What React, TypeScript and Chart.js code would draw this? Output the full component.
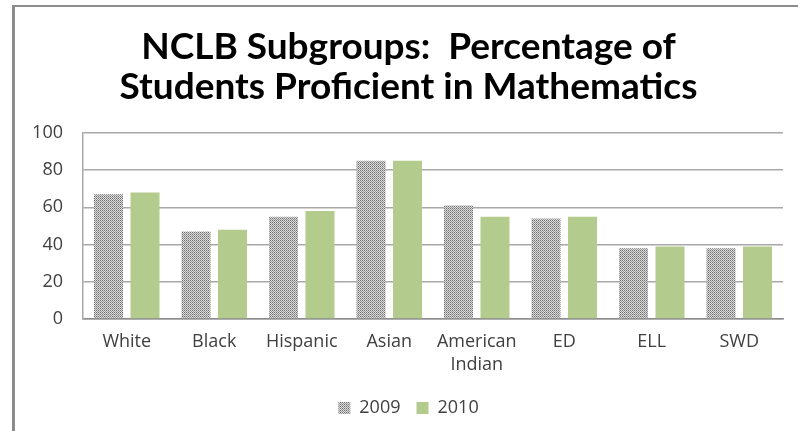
import React, { useEffect, useRef } from "react";
import { Chart, registerables } from "chart.js";

Chart.register(...registerables);

// Subgroup categories and proficiency percentages per school year
const categories: (string | string[])[] = [
  "White",
  "Black",
  "Hispanic",
  "Asian",
  ["American", "Indian"],
  "ED",
  "ELL",
  "SWD",
];
const years = ["2009", "2010"];
const values2009 = [67, 47, 55, 85, 61, 54, 38, 38];
const values2010 = [68, 48, 58, 85, 55, 55, 39, 39];
const yTicks = [0, 20, 40, 60, 80, 100];
const titleLines = [
  "NCLB Subgroups:  Percentage of",
  "Students Proficient in Mathematics",
];

const labelFont = '"Open Sans", "DejaVu Sans", sans-serif';
const titleFontFamily = 'Lato, "Open Sans", sans-serif';
const green = "#b3cb8d";

// Fine stippled gray fill for the 2009 bars
function makeStipple(): CanvasPattern | string {
  const tile = document.createElement("canvas");
  tile.width = 2;
  tile.height = 2;
  const c = tile.getContext("2d");
  if (!c) return "#a8a8a8";
  c.fillStyle = "#dcdcdc";
  c.fillRect(0, 0, 2, 2);
  c.fillStyle = "#6e6e6e";
  c.fillRect(0, 0, 1, 1);
  c.fillStyle = "#9a9a9a";
  c.fillRect(1, 1, 1, 1);
  const main = document.createElement("canvas").getContext("2d");
  const pat = main ? main.createPattern(tile, "repeat") : null;
  return pat || "#a8a8a8";
}

export default function App() {
  const canvasRef = useRef<HTMLCanvasElement | null>(null);

  useEffect(() => {
    const canvas = canvasRef.current;
    if (!canvas) return;
    const stipple = makeStipple();

    const chart = new Chart(canvas, {
      type: "bar",
      data: {
        labels: categories,
        datasets: [
          {
            label: years[0],
            data: values2009,
            backgroundColor: stipple as any,
            borderWidth: 0,
            categoryPercentage: 0.834,
            barPercentage: 0.795,
          },
          {
            label: years[1],
            data: values2010,
            backgroundColor: green,
            borderWidth: 0,
            categoryPercentage: 0.834,
            barPercentage: 0.795,
          },
        ],
      },
      options: {
        responsive: false,
        animation: false,
        devicePixelRatio: 1,
        layout: { padding: { left: 34, right: 15, top: 0, bottom: 4 } },
        plugins: {
          tooltip: { enabled: false },
          title: {
            display: true,
            text: titleLines,
            color: "#000000",
            font: { family: titleFontFamily, size: 37, weight: "bold", lineHeight: 1.08 },
            padding: { top: 27, bottom: 26 },
          },
          legend: {
            display: true,
            position: "bottom",
            labels: {
              color: "#404040",
              font: { family: labelFont, size: 18 },
              boxWidth: 12,
              boxHeight: 12,
              padding: 16,
            },
          },
        },
        scales: {
          x: {
            grid: { display: false, drawTicks: false },
            border: { display: true, color: "#8c8c8c", width: 1.5 },
            ticks: {
              color: "#404040",
              font: { family: labelFont, size: 18, lineHeight: 1.3 },
              padding: 11,
              maxRotation: 0,
              autoSkip: false,
            },
            afterFit: (scale: any) => {
              scale.height = 64;
            },
          },
          y: {
            min: 0,
            max: 100,
            afterBuildTicks: (scale: any) => {
              scale.ticks = yTicks.map((v) => ({ value: v }));
            },
            grid: { color: "#a8a8a8", lineWidth: 1.5, drawTicks: false },
            border: { display: true, color: "#a8a8a8", width: 1.5 },
            ticks: {
              color: "#404040",
              font: { family: labelFont, size: 18 },
              padding: 20,
            },
            afterFit: (scale: any) => {
              scale.width = 49;
            },
          },
        },
      },
    });

    return () => chart.destroy();
  }, []);

  return (
    <div
      style={{
        position: "fixed",
        left: 0,
        top: 0,
        width: 798,
        height: 431,
        background: "#ffffff",
        overflow: "hidden",
      }}
    >
      <div
        style={{
          position: "absolute",
          left: 12,
          top: 5,
          right: 0,
          bottom: 0,
          borderLeft: "3px solid #8c8c8c",
          borderTop: "2px solid #8c8c8c",
        }}
      />
      <canvas
        ref={canvasRef}
        width={798}
        height={431}
        style={{ position: "absolute", left: 0, top: 0, width: 798, height: 431 }}
      />
    </div>
  );
}
